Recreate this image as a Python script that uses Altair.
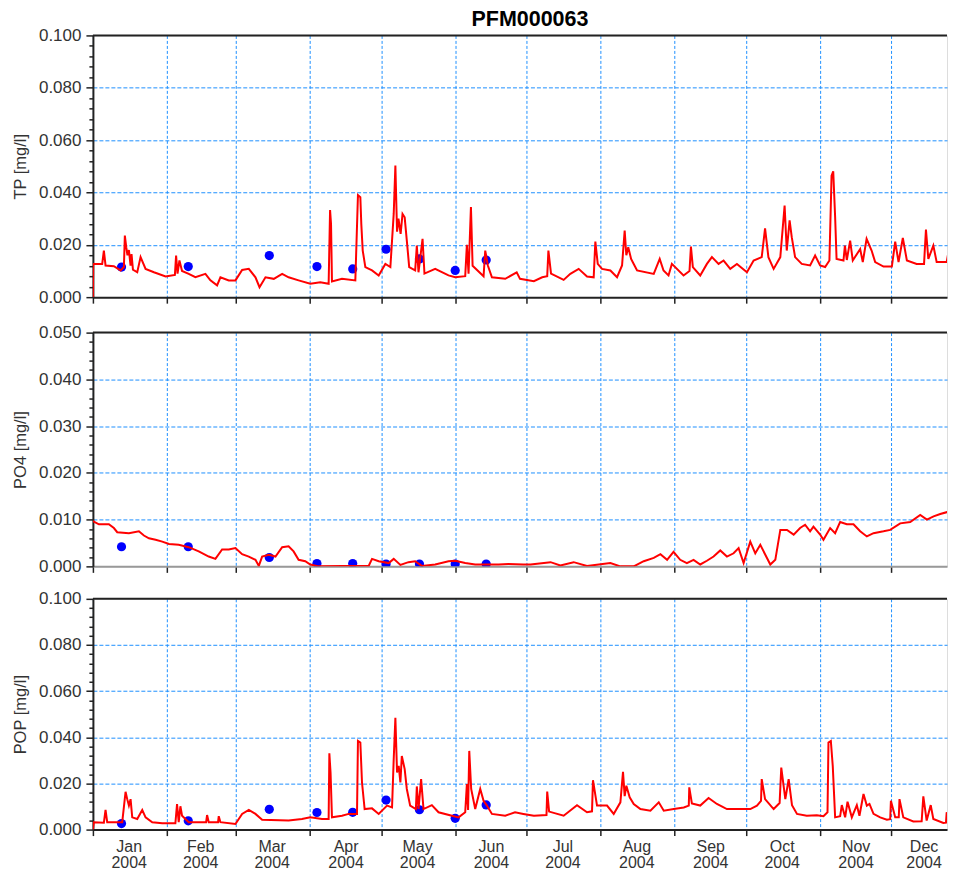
import altair as alt
import pandas as pd

TITLE = "PFM000063"
FONT = "Liberation Sans"
GRID = "#1e90ff"
AXIS_BLACK = "#222222"
TEXT = "#333333"

# ---- data: day offsets from 2004-01-01, concentrations in ug/l (0.001 mg/l) ----
TP_DAYS = [0, 0.1, 3.9, 4.6, 5.3, 8.8, 11.6, 13.0, 13.4, 14.0, 14.5, 15.1, 15.8, 16.2, 16.8, 18.6, 20.0, 22.1,
           25.6, 30.5, 34.4, 34.9, 35.5, 36.3, 37.4, 40.2, 43.0, 47.2, 49.3, 52.1, 53.5, 57.0, 59.8, 62.6, 65.4,
           68.2, 69.9, 72.4, 75.9, 79.4, 82.1, 86.3, 91.2, 95.4, 98.9, 99.5, 99.9, 100.3, 104.5, 110.1, 111.2,
           112.2, 112.6, 113.2, 114.3, 117.1, 119.9, 122.7, 124.8, 126.2, 126.9, 127.6, 128.2, 129.1, 129.9,
           130.8, 131.7, 132.7, 135.2, 135.9, 136.6, 138.3, 139.1, 143.6, 149.2, 152.0, 156.2, 156.9, 157.6,
           158.6, 159.3, 163.9, 164.6, 165.7, 167.4, 173.0, 177.8, 179.2, 185.0, 188.5, 190.6, 191.1, 192.2,
           197.5, 200.3, 203.8, 207.3, 210.1, 210.8, 211.8, 213.6, 217.1, 219.9, 222.0, 223.1, 223.8, 224.6,
           225.8, 226.9, 228.3, 235.3, 237.8, 239.4, 241.5, 242.9, 247.8, 250.3, 250.9, 251.7, 254.8, 257.6,
           259.7, 262.5, 264.6, 267.4, 270.2, 274.4, 277.2, 280.6, 282.0, 283.4, 285.6, 288.4, 290.2, 291.1,
           292.3, 293.2, 294.6, 297.4, 300.9, 303.0, 305.1, 307.2, 309.0, 309.9, 310.6, 311.4, 312.0, 314.9,
           315.5, 316.3, 317.7, 318.8, 321.9, 323.0, 324.6, 326.7, 328.2, 331.7, 335.2, 336.6, 338.0, 339.8,
           341.5, 345.6, 348.7, 349.5, 350.5, 352.6, 354.0, 358.2, 359.3, 360.3, 362.0]
TP_UG = [0.0, 12.7, 12.7, 17.8, 12.1, 11.8, 10.2, 11.5, 23.5, 19.0, 16.0, 18.0, 12.0, 16.5, 10.5, 9.5, 15.3, 10.8,
         9.5, 7.9, 8.5, 15.9, 9.0, 14.0, 10.0, 8.9, 7.6, 8.9, 6.4, 4.5, 7.6, 6.4, 6.4, 10.4, 10.8,
         7.6, 3.8, 7.6, 7.0, 8.9, 7.6, 6.4, 5.1, 5.7, 5.1, 33.3, 28.0, 6.0, 7.0, 6.4, 39.0,
         38.2, 28.0, 17.8, 11.5, 10.2, 8.3, 12.7, 11.5, 31.8, 50.3, 25.0, 30.0, 24.2, 31.8,
         30.5, 21.6, 11.5, 10.2, 19.7, 9.5, 22.3, 9.0, 10.8, 8.3, 7.6, 8.0, 20.0, 9.0,
         34.4, 12.0, 8.0, 17.8, 12.1, 7.6, 7.0, 9.5, 7.0, 6.1, 7.6, 8.0, 17.8, 9.0,
         6.6, 8.9, 10.8, 7.9, 7.6, 21.2, 12.7, 10.8, 10.2, 7.6, 12.1, 25.4, 16.0, 19.1,
         14.6, 12.7, 10.2, 8.9, 14.6, 10.2, 8.3, 12.7, 8.3, 10.0, 19.3, 11.5, 8.3, 12.7,
         15.3, 12.7, 14.0, 10.8, 12.7, 9.5, 14.0, 15.3, 26.3, 15.3, 10.8, 15.3, 35.0, 17.8,
         29.3, 22.9, 15.3, 12.7, 12.1, 15.9, 12.1, 11.5, 14.0, 46.4, 48.1, 30.5, 14.6, 14.0,
         19.7, 14.2, 21.6, 14.0, 18.4, 13.4, 22.3, 17.8, 13.4, 11.7, 11.7, 21.2, 13.4, 22.6,
         14.0, 12.7, 12.7, 25.8, 14.6, 19.7, 13.4, 13.4, 19.1, 14.6, 14.6]

PO4_DAYS = [0, 2.5, 6.7, 8.8, 10.2, 15.1, 19.3, 21.4, 23.5, 26.3, 29.1, 31.9, 36.0, 40.2, 44.4, 48.6, 51.4, 54.2,
            57.0, 59.8, 62.6, 65.4, 68.2, 69.6, 71.0, 73.8, 76.6, 79.4, 82.1, 84.2, 86.3, 89.1, 91.2, 94.7,
            104.5, 115.7, 117.1, 119.9, 124.1, 126.2, 129.0, 132.4, 135.2, 138.0, 143.6, 149.2, 152.0, 156.2,
            160.4, 170.2, 174.3, 180.6, 183.6, 192.0, 196.1, 201.7, 207.3, 217.1, 221.3, 226.9, 231.1, 235.3,
            238.1, 240.9, 243.6, 246.4, 249.2, 252.0, 254.8, 257.6, 260.4, 263.2, 266.0, 268.8, 270.9, 273.0,
            275.8, 277.9, 280.0, 282.8, 284.2, 286.3, 288.4, 291.2, 294.0, 296.7, 298.8, 300.9, 302.3, 305.1,
            306.5, 309.3, 311.4, 313.5, 316.3, 319.1, 321.9, 324.7, 327.5, 331.7, 334.5, 338.7, 342.9, 347.1,
            349.9, 352.7, 355.5, 358.3, 362.0]
PO4_UG = [9.7, 9.0, 9.0, 8.2, 7.3, 7.1, 7.5, 6.6, 6.0, 5.7, 5.3, 4.8, 4.6, 4.1, 3.2, 2.1, 1.6, 3.6,
          3.6, 3.9, 2.6, 2.1, 1.4, 0.1, 2.1, 2.5, 2.1, 4.1, 4.3, 3.2, 1.4, 1.1, 0.4, 0.0,
          0.1, 0.1, 1.6, 1.1, 0.7, 1.6, 0.3, 0.9, 1.1, 0.1, 0.4, 1.1, 1.2, 0.7,
          0.4, 0.4, 0.5, 0.4, 0.4, 0.9, 0.2, 0.9, 0.1, 0.7, 0.0, 0.0, 1.1, 1.8,
          2.6, 1.4, 3.1, 1.4, 0.7, 1.4, 0.4, 1.2, 2.1, 3.4, 2.1, 2.8, 3.9, 0.7,
          5.3, 2.8, 4.6, 1.8, 0.4, 1.4, 7.8, 7.8, 6.8, 8.2, 8.9, 7.5, 8.5, 6.8,
          5.7, 8.2, 7.1, 9.5, 9.0, 9.0, 7.5, 6.4, 7.1, 7.5, 7.8, 9.2, 9.5, 11.0,
          10.0, 10.7, 11.2, 11.6, 11.4]

POP_DAYS = [0, 0.4, 4.6, 5.3, 6.0, 12.3, 13.7, 14.4, 15.1, 15.8, 16.5, 18.6, 20.7, 22.1, 24.9, 29.1, 34.6, 35.3,
            36.0, 36.7, 37.4, 40.2, 47.5, 47.9, 48.6, 52.5, 52.8, 53.5, 59.8, 62.6, 65.4, 68.2, 71.0, 82.1,
            87.7, 91.2, 96.1, 98.9, 99.2, 99.7, 100.3, 104.5, 107.3, 110.8, 111.2, 112.2, 112.9, 114.0, 117.1,
            119.9, 123.4, 125.5, 126.2, 126.9, 127.6, 128.3, 129.0, 129.6, 130.8, 131.7, 133.1, 135.5, 135.9,
            136.6, 137.7, 138.7, 142.2, 145.0, 150.6, 153.4, 156.2, 156.9, 157.4, 157.9, 158.7, 160.4, 162.5,
            163.9, 165.3, 167.4, 173.0, 177.1, 180.6, 185.0, 190.3, 190.6, 191.4, 197.5, 203.1, 207.3, 209.4,
            209.8, 211.5, 215.7, 218.5, 221.3, 222.4, 223.1, 223.8, 225.2, 226.9, 229.7, 233.9, 237.4, 239.5,
            243.7, 247.9, 250.0, 250.2, 251.3, 254.8, 258.3, 261.8, 266.0, 275.8, 278.6, 280.3, 280.6, 282.0,
            285.6, 288.1, 288.8, 290.5, 291.9, 293.3, 295.4, 299.5, 303.7, 306.5, 308.2, 308.6, 309.6, 310.4,
            311.4, 313.5, 314.2, 315.6, 316.6, 318.4, 320.5, 321.6, 323.3, 324.7, 325.8, 327.5, 330.3, 333.1,
            334.5, 334.8, 336.6, 338.1, 338.4, 340.0, 344.2, 347.7, 348.4, 349.8, 351.5, 352.6, 356.8, 357.9,
            358.2, 359.3, 362.0]
POP_UG = [0.0, 3.2, 3.0, 8.5, 3.2, 3.2, 16.4, 13.2, 10.4, 13.2, 5.3, 4.6, 8.5, 5.3, 3.2, 2.7, 2.7, 11.1,
          3.2, 10.1, 6.0, 3.2, 3.2, 6.3, 3.2, 3.2, 5.8, 3.2, 2.4, 6.8, 8.5, 6.8, 4.3, 3.9,
          4.6, 5.3, 4.6, 4.6, 33.1, 24.7, 5.3, 6.0, 6.8, 6.8, 38.4, 37.7, 20.4, 8.9, 9.2,
          6.8, 10.4, 9.6, 30.5, 48.5, 24.7, 27.6, 20.4, 31.9, 26.2, 17.6, 10.4, 8.9, 18.7,
          8.9, 21.9, 8.9, 10.6, 7.5, 6.0, 5.3, 7.5, 19.7, 8.5, 34.1, 17.6, 8.9, 17.6,
          12.5, 10.4, 6.8, 6.0, 7.5, 6.8, 6.0, 6.3, 16.5, 7.8, 6.0, 10.6, 7.5, 7.9,
          21.4, 10.4, 10.4, 6.8, 11.8, 25.0, 14.5, 19.0, 14.0, 11.1, 8.9, 8.2, 11.8, 8.2,
          8.9, 9.6, 10.4, 18.3, 11.3, 10.4, 13.7, 11.1, 8.9, 8.9, 10.4, 12.4, 21.9, 13.2,
          8.9, 11.5, 26.9, 13.2, 21.9, 10.6, 6.8, 6.0, 6.2, 5.8, 7.5, 37.7, 38.4, 27.6,
          5.3, 5.8, 10.6, 5.3, 12.1, 5.3, 10.6, 6.0, 15.4, 10.4, 11.1, 6.8, 5.3, 4.3,
          4.5, 12.5, 5.3, 5.3, 13.2, 5.3, 3.5, 3.6, 14.4, 3.9, 10.6, 4.6, 2.9, 3.0,
          7.5, 3.2, 2.0]

OBS_DAYS = [12, 40, 74, 94, 109, 123, 137, 152, 165]
OBS_TP_UG = [11.5, 11.7, 15.9, 11.7, 10.8, 18.3, 14.6, 10.2, 14.2]
OBS_PO4_UG = [4.2, 4.2, 1.9, 0.6, 0.6, 0.5, 0.5, 0.5, 0.5]
OBS_POP_UG = [2.6, 3.8, 8.8, 7.4, 7.5, 12.8, 8.6, 4.9, 10.7]

MONTH_STARTS = ["2004-%02d-01" % m for m in range(1, 13)]
MONTH_LABEL_DATES = ["2004-01-16", "2004-02-15", "2004-03-16", "2004-04-16", "2004-05-16", "2004-06-16",
                     "2004-07-16", "2004-08-16", "2004-09-16", "2004-10-16", "2004-11-16", "2004-12-14T12:00"]
X_START = "2004-01-01T00:00"
X_END = "2004-12-24T08:00"

BASE = pd.Timestamp("2004-01-01", tz="UTC")


def ms(s):
    return int(pd.Timestamp(s, tz="UTC").value // 10**6)


def iso(days):
    return [(BASE + pd.Timedelta(days=d)).strftime("%Y-%m-%dT%H:%M:%SZ") for d in days]


X_DOMAIN = [ms(X_START), ms(X_END)]
X_VALUES = sorted([ms(s) for s in MONTH_STARTS] + [ms(s) for s in MONTH_LABEL_DATES])
MONTH_TEST = "utcdate(datum.value) == 1 && utchours(datum.value) == 0"


def x_axis(show_labels, domain_color):
    return alt.Axis(
        values=X_VALUES,
        title=None,
        labels=show_labels,
        labelExpr="(" + MONTH_TEST + ") ? '' : [utcFormat(datum.value, '%b'), utcFormat(datum.value, '%Y')]",
        labelOverlap=False, labelFlush=False, labelBound=False,
        labelFont=FONT, labelFontSize=16, labelColor=TEXT, labelLineHeight=16, labelPadding=3,
        labelAlign="center",
        tickSize=6, tickWidth=1.5, tickColor=AXIS_BLACK,
        tickOpacity={"condition": {"test": MONTH_TEST, "value": 1}, "value": 0},
        grid=True, gridColor=GRID, gridDash=[3, 2], gridWidth=1,
        gridOpacity={"condition": {"test": MONTH_TEST, "value": 1}, "value": 0},
        domainColor=domain_color, domainWidth=2,
    )


def y_axis(title, top, major, minor):
    n = int(round(top / minor))
    vals = [round(i * minor, 6) for i in range(n + 1)]
    is_major = f"abs(datum.value / {major} - round(datum.value / {major})) < 0.001"
    inner = f"({is_major}) && datum.value > 0.0000001 && datum.value < {top - minor / 2}"
    return alt.Axis(
        values=vals, title=title,
        labelExpr=f"({is_major}) ? format(datum.value, '.3f') : ''",
        labelOverlap=False, labelFlush=False,
        labelFont=FONT, labelFontSize=17, labelColor=TEXT, labelPadding=5,
        tickSize={"condition": {"test": is_major, "value": 7}, "value": 4},
        tickColor=AXIS_BLACK, tickWidth=1.5,
        grid=True, gridColor=GRID, gridDash=[4, 2], gridWidth=1,
        gridOpacity={"condition": {"test": inner, "value": 1}, "value": 0},
        domainColor=AXIS_BLACK, domainWidth=2,
        titleFont=FONT, titleFontSize=16.5, titleColor=TEXT, titleFontWeight="normal", titlePadding=10,
    )


def panel(days, vals_ug, obs_ug, ytitle, top, major, minor, show_labels, domain_color, height):
    line_df = pd.DataFrame({"date": iso(days), "value": [v / 1000 for v in vals_ug]})
    obs_df = pd.DataFrame({"date": iso(OBS_DAYS), "value": [v / 1000 for v in obs_ug]})
    border_df = pd.DataFrame({"date": [X_START + ":00Z"], "date_end": [X_END + ":00Z"], "value": [top]})
    xenc = alt.X("date:T", title=None, scale=alt.Scale(type="utc", domain=X_DOMAIN),
                 axis=x_axis(show_labels, domain_color))
    yenc = alt.Y("value:Q", title=ytitle, scale=alt.Scale(domain=[0, top], nice=False, zero=True),
                 axis=y_axis(ytitle, top, major, minor))
    pts = alt.Chart(obs_df).mark_circle(size=85, color="#0000ff", opacity=1, clip=True).encode(x=xenc, y=yenc)
    line = alt.Chart(line_df).mark_line(color="#ff0000", strokeWidth=2, clip=True).encode(x=xenc, y=yenc)
    border = alt.Chart(border_df).mark_rule(color=AXIS_BLACK, strokeWidth=2).encode(
        x=xenc, x2=alt.X2("date_end:T"), y=yenc)
    return alt.layer(pts, line, border).properties(width=855, height=height)


top = panel(TP_DAYS, TP_UG, OBS_TP_UG, "TP [mg/l]", 0.1, 0.02, 0.004, False, AXIS_BLACK, 262).properties(
    title=alt.Title(TITLE, font=FONT, fontSize=21.5, fontWeight="bold", color="#000000",
                    anchor="middle", frame="group", offset=-4, dx=10))
mid = panel(PO4_DAYS, PO4_UG, OBS_PO4_UG, "PO4 [mg/l]", 0.05, 0.01, 0.002, False, "#999999", 234)
bot = panel(POP_DAYS, POP_UG, OBS_POP_UG, "POP [mg/l]", 0.1, 0.02, 0.004, True, AXIS_BLACK, 231)

chart = alt.vconcat(alt.vconcat(top, mid, spacing=16.5), bot, spacing=14).properties(
    padding={"left": 3, "top": 0, "right": 0, "bottom": 0}
).configure_view(stroke=None).configure(background="white")

chart.save("out.html", embed_options={"renderer": "svg", "actions": False})
